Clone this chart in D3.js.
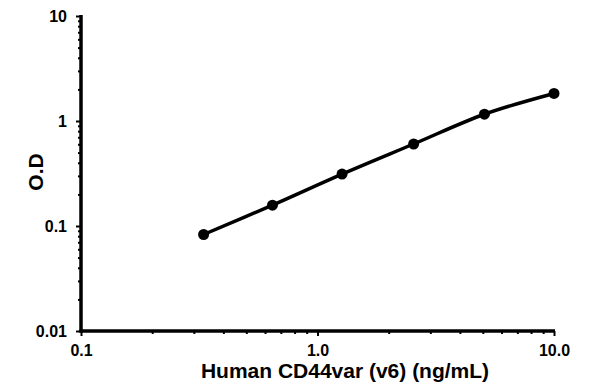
<!DOCTYPE html>
<html>
<head>
<meta charset="utf-8">
<script src="https://cdn.jsdelivr.net/npm/d3@7"></script>
<style>
  body { margin: 0; background: #fff; }
  text { font-family: "Liberation Sans", Arial, sans-serif; font-weight: bold; }
</style>
</head>
<body>
<div id="chart"></div>
<script>
// data
const concentration = [0.33, 0.645, 1.27, 2.55, 5.08, 10];
const od = [0.083, 0.158, 0.312, 0.604, 1.16, 1.83];
const xTicks = [0.1, 1, 10];
const xTickLabels = ["0.1", "1.0", "10.0"];
const yTicks = [0.01, 0.1, 1, 10];
const yTickLabels = ["0.01", "0.1", "1", "10"];

// set the dimensions and margins
const margin = { top: 16, right: 42, bottom: 61, left: 81 },
    width = 596 - margin.left - margin.right,
    height = 392 - margin.top - margin.bottom;

const svg = d3.select("#chart")
    .append("svg")
    .attr("width", width + margin.left + margin.right)
    .attr("height", height + margin.top + margin.bottom)
    .append("g")
    .attr("transform", `translate(${margin.left},${margin.top})`);

const x = d3.scaleLog().domain([0.1, 10]).range([0, width]);
const y = d3.scaleLog().domain([0.01, 10]).range([height, 0]);

// minor ticks 2..9 for each decade
const minor = (lo, hi) => {
    const out = [];
    for (let e = Math.log10(lo); e < Math.log10(hi); e++)
        for (let k = 2; k <= 9; k++) out.push(k * Math.pow(10, e));
    return out;
};

// X axis
const gx = svg.append("g").attr("transform", `translate(0, ${height})`);
gx.call(d3.axisBottom(x).tickValues(minor(0.1, 10)).tickSize(3).tickFormat(""));
gx.call(g => g.select(".domain").remove());
gx.selectAll("line").attr("stroke", "#000").attr("stroke-width", 2);
const gxMaj = svg.append("g").attr("transform", `translate(0, ${height})`)
    .call(d3.axisBottom(x).tickValues(xTicks).tickSize(5).tickPadding(9)
        .tickFormat((d, i) => xTickLabels[i]));
gxMaj.select(".domain").remove();
gxMaj.selectAll("line").attr("stroke", "#000").attr("stroke-width", 2);
gxMaj.selectAll("text").attr("font-size", 16).attr("fill", "#000")
    .attr("font-family", "Liberation Sans, Arial, sans-serif");

// Y axis
const gy = svg.append("g");
gy.call(d3.axisLeft(y).tickValues(minor(0.01, 10)).tickSize(3).tickFormat(""));
gy.call(g => g.select(".domain").remove());
gy.selectAll("line").attr("stroke", "#000").attr("stroke-width", 2);
const gyMaj = svg.append("g")
    .call(d3.axisLeft(y).tickValues(yTicks).tickSize(5).tickPadding(9)
        .tickFormat((d, i) => yTickLabels[i]));
gyMaj.select(".domain").remove();
gyMaj.selectAll("line").attr("stroke", "#000").attr("stroke-width", 2);
gyMaj.selectAll("text").attr("font-size", 16).attr("fill", "#000")
    .attr("font-family", "Liberation Sans, Arial, sans-serif");

// axis lines (thick)
svg.append("line").attr("x1", 0).attr("x2", 0).attr("y1", -1).attr("y2", height + 1.5)
    .attr("stroke", "#000").attr("stroke-width", 3.5);
svg.append("line").attr("x1", -1.5).attr("x2", width + 1).attr("y1", height).attr("y2", height)
    .attr("stroke", "#000").attr("stroke-width", 3.5);

// curve
const pts = concentration.map((c, i) => [c, od[i]]);
svg.append("path")
    .datum(pts)
    .attr("fill", "none")
    .attr("stroke", "#000")
    .attr("stroke-width", 3.5)
    .attr("d", d3.line().x(d => x(d[0])).y(d => y(d[1])).curve(d3.curveCatmullRom));

svg.append("g")
    .selectAll("circle")
    .data(pts)
    .join("circle")
    .attr("cx", d => x(d[0]))
    .attr("cy", d => y(d[1]))
    .attr("r", 5.5)
    .attr("fill", "#000");

// axis titles
svg.append("text")
    .attr("x", 264)
    .attr("y", height + 47)
    .attr("text-anchor", "middle")
    .attr("font-size", 21)
    .text("Human CD44var (v6) (ng/mL)");

svg.append("text")
    .attr("transform", `translate(${43 - margin.left}, ${172 - margin.top}) rotate(-90)`)
    .attr("text-anchor", "middle")
    .attr("font-size", 21)
    .text("O.D");
</script>
</body>
</html>
